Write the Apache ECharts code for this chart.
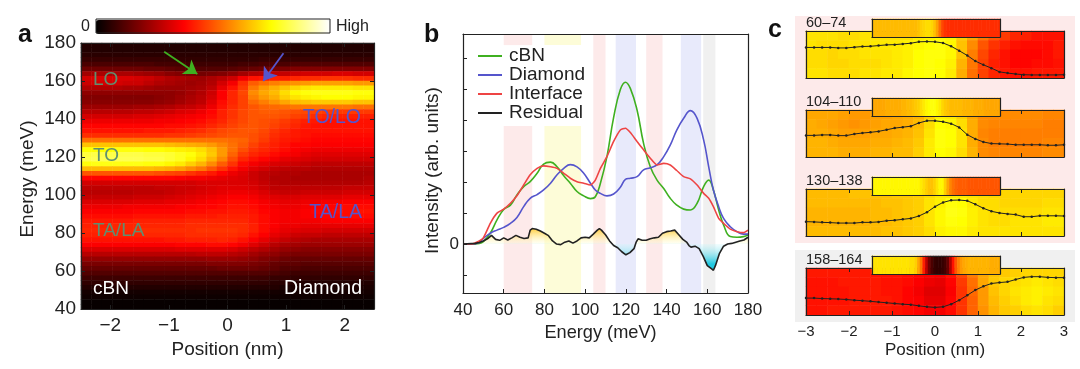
<!DOCTYPE html>
<html>
<head>
<meta charset="utf-8">
<style>html,body{margin:0;padding:0;background:#fff}#chart{width:1080px;height:369px}</style>
<script src="https://cdn.jsdelivr.net/npm/echarts@6/dist/echarts.min.js"></script>
</head>
<body>
<div id="chart"></div>
<script>
// panel a: rows top to bottom (178.75 down to 41.25 meV, 2.5 meV apart), 28 position columns (-2.41 to 2.41 nm)
var aMatrix = [
[5,5,5,5,5,5,5,5,5,5,5,5,5,5,5,5,5,5,5,5,5,5,5,5,5,5,5,5],
[5,5,5,5,5,5,5,5,5,5,5,5,5,5,5,5,5,5,5,5,5,5,5,5,5,5,5,5],
[6,6,6,6,6,6,6,6,6,6,6,6,6,6,6,6,6,6,6,6,6,6,6,6,6,6,6,6],
[8,8,8,8,8,8,8,8,8,7,7,7,7,7,7,7,7,8,8,8,8,8,8,8,8,8,8,8],
[11,11,11,11,11,11,11,10,10,10,9,9,9,9,9,10,10,11,11,11,12,12,12,12,12,12,12,12],
[16,16,16,16,16,16,15,15,14,13,12,12,12,12,13,14,15,16,17,18,19,19,19,19,19,19,19,19],
[24,25,25,25,25,24,23,22,20,19,18,17,18,19,21,24,26,27,28,29,30,31,31,31,32,32,31,31],
[31,32,32,32,32,31,30,28,26,25,24,23,25,27,30,36,40,41,42,42,43,44,44,45,45,45,44,44],
[30,31,31,31,30,30,28,26,25,24,23,24,26,31,36,44,51,54,56,58,59,60,61,61,61,61,60,60],
[26,26,26,26,25,25,24,23,23,23,24,25,28,34,40,46,55,60,63,66,69,71,72,72,72,72,71,71],
[21,21,21,21,21,21,21,21,21,22,24,26,30,37,43,48,58,62,65,70,74,76,77,77,77,77,76,76],
[19,19,19,19,19,19,19,20,21,23,25,27,31,37,43,47,56,60,63,68,71,73,74,75,75,75,74,74],
[20,20,20,20,20,20,20,21,22,24,26,28,33,39,43,47,53,56,59,62,65,66,67,67,67,67,66,66],
[23,23,23,23,23,24,24,25,26,28,29,31,35,40,44,47,50,52,53,54,55,55,55,55,55,55,54,54],
[27,27,27,27,27,28,28,29,30,32,33,35,38,42,45,48,50,51,51,50,49,48,47,46,46,46,46,46],
[31,31,31,31,31,32,32,33,34,35,36,37,39,42,45,48,50,50,50,49,47,46,44,43,42,42,42,42],
[35,35,35,35,35,35,35,36,36,37,38,39,41,43,46,48,50,49,48,46,44,42,41,40,40,40,40,40],
[38,38,38,38,38,38,38,38,39,39,40,41,43,45,47,49,50,49,47,45,43,41,40,40,40,40,40,40],
[40,40,40,40,40,40,41,41,41,42,43,44,46,48,49,50,50,48,45,43,41,40,40,40,40,40,40,40],
[44,44,44,44,44,44,44,44,45,45,46,47,48,49,50,50,49,47,44,42,41,40,39,39,39,39,39,39],
[54,54,54,54,54,54,54,54,54,54,54,54,54,54,53,52,49,46,43,41,40,39,38,38,38,38,38,38],
[66,66,66,66,66,66,66,66,65,64,63,62,60,57,54,51,47,44,42,40,38,38,37,37,37,37,37,37],
[75,75,75,76,76,76,75,75,74,73,72,70,66,60,54,49,45,43,41,39,37,36,35,35,35,35,35,35],
[81,82,82,82,82,82,81,81,80,78,76,72,67,60,52,46,43,41,39,37,36,34,33,33,33,33,33,33],
[82,83,83,83,83,83,82,82,80,78,74,70,64,57,49,43,40,38,36,34,33,32,31,31,31,31,31,31],
[76,77,77,77,77,77,76,76,74,72,68,64,58,51,45,39,36,34,32,31,30,29,28,28,28,28,28,28],
[65,65,65,65,65,65,65,64,63,61,58,55,50,45,40,36,33,31,29,28,27,27,26,26,26,26,26,26],
[50,50,50,50,50,50,50,49,48,47,45,43,41,38,35,33,30,28,27,26,26,25,25,25,25,25,25,25],
[38,38,38,38,38,38,38,38,38,37,36,36,35,34,33,32,30,28,26,26,25,25,25,25,25,25,25,26],
[31,31,31,31,31,31,31,31,31,31,31,32,32,32,32,32,31,29,27,26,26,26,26,26,26,26,26,27],
[28,28,28,28,28,28,28,29,29,30,30,31,32,33,33,33,32,30,28,28,28,28,28,28,28,29,29,29],
[27,27,27,27,27,28,28,28,29,30,31,32,33,34,35,35,34,32,30,29,29,30,30,30,30,31,31,31],
[29,29,29,29,29,30,30,30,31,32,33,34,35,36,37,37,36,34,33,32,32,33,33,33,33,34,34,34],
[32,32,32,32,32,33,33,33,34,34,35,36,37,38,39,39,38,36,35,34,34,35,35,36,36,37,37,37],
[35,35,35,35,36,36,36,36,36,37,37,38,38,39,40,40,39,37,36,35,35,36,37,38,38,39,39,39],
[37,37,37,37,37,38,38,38,38,38,39,39,40,40,41,41,40,38,37,36,36,37,38,38,39,39,40,40],
[39,39,39,39,39,40,40,40,40,40,41,41,41,42,42,42,41,39,37,36,36,37,37,38,38,39,39,39],
[41,41,41,41,41,42,42,42,42,42,43,43,43,43,43,43,41,39,37,36,36,36,36,37,37,37,37,37],
[42,42,42,43,43,43,43,43,43,43,44,44,44,44,44,44,42,39,37,35,35,34,34,34,34,34,34,34],
[43,43,43,43,43,44,44,44,44,44,44,45,45,45,45,44,42,39,36,34,33,32,32,31,31,31,31,31],
[42,42,42,42,42,42,43,43,43,43,44,44,44,44,44,43,40,37,34,32,30,29,29,28,28,28,28,28],
[40,40,40,40,40,40,40,40,41,41,42,42,42,43,42,40,37,34,31,29,27,26,25,25,25,25,25,25],
[37,37,37,37,37,37,37,37,37,38,38,38,39,39,38,36,33,30,27,25,24,23,23,23,23,23,23,23],
[32,32,32,32,32,32,32,32,32,33,33,33,33,33,32,30,28,26,24,22,21,20,20,20,20,20,20,20],
[27,27,27,27,27,27,27,27,27,27,27,28,28,28,27,26,24,22,21,19,18,18,18,18,18,18,18,18],
[22,22,22,22,22,22,22,22,22,22,22,22,23,23,23,22,21,19,18,16,15,15,15,15,15,15,15,15],
[18,18,18,18,18,18,18,18,18,18,18,18,19,19,19,19,18,17,15,14,14,13,13,13,13,13,13,13],
[15,15,15,15,15,15,15,15,15,15,15,15,15,16,16,16,16,15,14,12,12,11,11,11,11,11,11,11],
[12,12,12,12,12,12,12,12,12,12,12,12,12,12,12,12,12,12,11,10,9,9,9,9,9,9,9,9],
[9,9,9,9,9,9,9,9,9,9,9,9,9,9,9,9,9,9,8,8,7,7,7,7,7,7,7,7],
[7,7,7,7,7,7,7,7,7,7,7,7,7,7,7,7,7,7,6,6,5,5,5,5,5,5,5,5],
[5,5,5,5,5,5,5,5,5,5,5,5,5,5,5,5,5,5,5,4,4,4,4,4,4,4,4,4],
[3,3,3,3,3,3,3,3,3,3,3,3,3,3,3,3,3,3,3,3,3,3,3,3,3,3,3,3],
[2,2,2,2,2,2,2,2,2,2,2,2,2,2,2,2,2,2,2,2,2,2,2,2,2,2,2,2],
[1,1,1,1,1,1,1,1,1,1,1,1,1,1,1,1,1,1,1,1,1,1,1,1,1,1,1,1],
[1,1,1,1,1,1,1,1,1,1,1,1,1,1,1,1,1,1,1,1,1,1,1,1,1,1,1,1]
];
var arrowGreen = [[-1.08,175.4],[-0.515,163.7]];
var arrowBlue = [[0.955,174.6],[0.61,160]];

// panel b spectra, sampled on a shared energy list
var bEnergy = [40,44,48,50,53.4,56.7,60,63.3,66.5,69.8,73,76.4,79.6,83,86.2,89.5,92.7,96,99.3,102.6,105,107.5,110.7,114,117.3,119.8,122.2,125.5,128.7,132,135.3,138.6,141.8,145,148.4,151.7,155,158.2,160.7,163,165.6,168,171.3,174.6,177.8,180];
var cbnY = [0,0,0.02,0.08,0.35,0.78,1.12,1.26,1.59,1.86,2.02,2.29,2.59,2.65,2.5,2.21,1.97,1.7,1.56,1.47,1.53,1.97,2.83,4.1,5.0,5.24,5.04,4.34,3.26,2.5,2.07,1.8,1.48,1.26,1.13,1.1,1.32,1.86,2.07,1.75,1.1,0.62,0.24,0.22,0.24,0.29];
var diamondY = [0,0,0.05,0.18,0.35,0.45,0.54,0.67,0.86,1.21,1.48,1.6,1.75,1.97,2.24,2.45,2.57,2.5,2.29,1.97,1.75,1.64,1.56,1.62,1.84,2.09,2.13,2.18,2.4,2.47,2.56,2.83,3.2,3.69,4.07,4.32,4.07,3.37,2.5,1.75,1.21,0.83,0.56,0.4,0.32,0.32];
var interfaceY = [0,0,0.1,0.2,0.67,1.0,1.13,1.32,1.56,1.91,2.24,2.45,2.53,2.5,2.45,2.29,2.13,2.02,1.97,1.91,2.07,2.45,2.83,3.32,3.69,3.75,3.61,3.32,3.05,2.78,2.56,2.61,2.56,2.38,2.18,2.11,1.91,1.64,1.48,1.21,0.83,0.67,0.48,0.4,0.37,0.45];
var residualX = [40,46,48,50,52,54,56,58,60,62,64,66,68,70,72,73,74,76,78,80,82,84,86,88,90,92,94,96,98,100,102,104,106,107,108,110,112,114,116,118,120,122,124,125,126,128,130,132,134,136,138,140,142,144,146,148,150,151,152,154,156,158,160,162,163,164,166,168,170,172,174,176,178,180];
var residualY = [0,0.02,0.05,0.1,0.17,0.28,0.15,0.12,0.2,0.13,0.2,0.28,0.22,0.18,0.2,0.45,0.5,0.48,0.42,0.35,0.27,0.1,0,-0.02,0.06,0.1,0.03,0.1,0.2,0.22,0.2,0.32,0.45,0.5,0.45,0.3,0.1,-0.05,-0.12,-0.25,-0.35,-0.28,-0.15,0.05,0.17,0.12,0.12,0.17,0.2,0.22,0.35,0.4,0.42,0.45,0.3,0.15,0.05,-0.05,-0.1,-0.07,-0.15,-0.4,-0.7,-0.8,-0.85,-0.7,-0.3,-0.07,0,0.02,0.06,0.1,0.13,0.22];
var bandStart = [60,80,104,115,130,147,158];
var bandEnd = [74,98,110,125,138,157,164];
var bandColor = ['#fdeaea','#fdfcd8','#fdeaea','#e8eafb','#fdeaea','#e8eafb','#f0f0f0'];
var bYTicks = [-1,0,1,2,3,4,5,6];

// panel c: 24 columns x 5 rows per map, curve on 33 positions, strip on 48 columns
var cPositions = [-3,-2.8125,-2.625,-2.4375,-2.25,-2.0625,-1.875,-1.6875,-1.5,-1.3125,-1.125,-0.9375,-0.75,-0.5625,-0.375,-0.1875,0,0.1875,0.375,0.5625,0.75,0.9375,1.125,1.3125,1.5,1.6875,1.875,2.0625,2.25,2.4375,2.625,2.8125,3];
var cLabels = ['60–74','104–110','130–138','158–164'];
var map60 = [
[71,71,71,70,70,71,71,71,71,71,73,74,75,74,68,62,55,50,46,43,42,40,40,40],
[71,70,70,70,71,71,72,72,72,73,74,75,76,74,66,58,50,45,42,40,39,39,39,41],
[70,70,69,70,70,71,71,71,72,73,75,76,76,74,66,56,48,43,40,38,38,38,39,41],
[70,70,69,69,70,70,70,71,72,73,75,76,75,73,64,55,47,42,40,38,38,39,39,40],
[71,71,70,70,70,71,71,72,72,74,75,76,75,72,63,54,47,43,41,40,40,41,41,41]];
var map104 = [
[62,62,62,61,60,60,61,61,62,63,64,68,73,72,68,62,58,58,58,58,58,58,57,57],
[63,62,61,60,59,60,61,62,62,63,65,70,75,74,70,63,58,57,57,57,57,57,56,56],
[63,63,62,61,61,61,62,62,63,64,66,71,76,75,71,63,57,56,56,56,56,56,56,56],
[64,64,63,62,62,62,63,63,64,65,67,72,76,75,71,63,58,56,56,56,56,56,57,57],
[64,64,64,63,63,63,64,64,65,65,68,72,75,74,70,64,58,57,57,57,57,57,58,58]];
var map130 = [
[65,65,65,65,66,66,66,66,67,67,68,70,72,72,72,71,70,69,69,69,69,69,69,69],
[65,65,65,65,65,65,65,66,66,67,68,71,73,76,75,72,70,70,69,69,69,69,70,70],
[64,64,64,64,64,64,65,65,66,67,68,71,74,77,76,73,71,70,70,70,70,70,71,71],
[64,64,64,64,64,64,65,65,66,67,68,71,74,76,75,73,71,70,70,71,71,71,72,72],
[65,65,65,65,65,65,65,66,66,67,68,70,73,74,74,72,71,71,71,71,71,71,71,71]];
var map158 = [
[41,41,41,41,41,41,40,40,40,39,38,37,36,40,48,56,62,66,67,68,69,69,69,69],
[40,40,40,41,41,41,41,40,40,39,37,35,34,38,46,54,62,67,69,70,71,72,71,70],
[40,40,40,40,41,41,41,40,40,38,36,33,33,37,45,53,60,66,69,71,72,73,72,71],
[40,40,40,40,41,41,41,41,40,38,37,34,34,38,45,52,60,65,68,70,72,73,71,70],
[40,40,41,41,41,41,41,41,40,39,38,36,36,39,45,52,59,64,67,68,70,71,70,68]];
var curve60 = [0.65,0.65,0.65,0.65,0.64,0.64,0.655,0.67,0.675,0.69,0.705,0.71,0.725,0.74,0.77,0.775,0.77,0.745,0.675,0.58,0.48,0.36,0.28,0.21,0.13,0.105,0.085,0.07,0.065,0.065,0.065,0.065,0.07];
var curve104 = [0.46,0.46,0.47,0.47,0.455,0.455,0.49,0.51,0.525,0.545,0.58,0.615,0.635,0.655,0.725,0.77,0.77,0.75,0.71,0.63,0.475,0.385,0.32,0.285,0.28,0.275,0.26,0.26,0.26,0.26,0.25,0.25,0.26];
var curve130 = [0.305,0.3,0.29,0.285,0.275,0.275,0.275,0.29,0.29,0.3,0.325,0.335,0.355,0.375,0.425,0.505,0.625,0.715,0.76,0.765,0.75,0.675,0.59,0.525,0.49,0.47,0.455,0.41,0.41,0.43,0.43,0.43,0.425];
var curve158 = [0.36,0.36,0.35,0.345,0.34,0.33,0.315,0.305,0.29,0.275,0.26,0.245,0.23,0.22,0.195,0.175,0.16,0.175,0.23,0.315,0.42,0.53,0.61,0.67,0.69,0.705,0.755,0.8,0.815,0.815,0.8,0.795,0.795];
var strip60 = [65,65,65,65,65,65,65,65,65,65,65,65,65,65,65,65,65,66,68,69,70,70,69,66,61,54,48,45,44,44,44,44,44,44,44,44,44,44,44,44,44,44,44,44,44,44,44,44];
var strip104 = [62,62,62,62,62,63,63,63,63,63,63,64,64,65,65,66,67,68,70,72,74,75,76,76,74,72,69,67,66,65,65,65,65,65,64,64,64,64,63,63,63,63,62,62,62,62,62,62];
var strip130 = [74,74,74,74,74,74,74,74,74,74,74,74,74,74,74,74,74,74,72,70,68,66,66,68,71,74,74,68,62,57,54,52,51,51,51,51,50,50,50,50,50,50,50,50,50,50,50,50];
var strip158 = [71,71,71,71,71,71,71,71,71,71,71,71,71,71,70,70,68,62,55,42,28,17,11,8,7,7,8,10,15,26,40,50,56,60,62,63,64,64,64,64,64,64,64,64,63,63,63,63];

var FONT = '"Liberation Sans"';
var INK = '#222';
var GREEN = '#3fb020', BLUE = '#5555cc', RED = '#ee4444';

var grids = [], xAxes = [], yAxes = [], series = [];

function fmt(v) { return String(v).replace('-', '\u2212'); }

function sideAxis(gridIndex, pos, range, extra) {
  var a = {
    type: 'value', gridIndex: gridIndex, position: pos, min: range[0], max: range[1], z: 5,
    splitLine: {show: false},
    axisLine: {show: true, onZero: false, lineStyle: {color: INK, width: 1.2}},
    axisTick: {show: false},
    axisLabel: {show: false}
  };
  for (var k in extra) a[k] = extra[k];
  return a;
}

function ticks(values) {
  return {show: true, inside: true, length: 4, customValues: values, lineStyle: {color: INK, width: 1}};
}

function labels(values, size, margin) {
  return {show: true, customValues: values, fontFamily: FONT, fontSize: size, color: INK, margin: margin, formatter: fmt};
}

// one grid with value axes on four sides, returns axis indexes
function addGrid(rect, xr, yr, b, l, t, r) {
  var g = grids.length;
  grids.push({left: rect[0], top: rect[1], width: rect[2], height: rect[3], containLabel: false});
  var xi = xAxes.length, yi = yAxes.length;
  xAxes.push(sideAxis(g, 'bottom', xr, b));
  xAxes.push(sideAxis(g, 'top', xr, t));
  yAxes.push(sideAxis(g, 'left', yr, l));
  yAxes.push(sideAxis(g, 'right', yr, r));
  return {grid: g, x: xi, y: yi};
}

// heat cells need category axes, kept hidden in the same grid
var heatIndexes = [];
function addHeat(g, rows, name) {
  var cx = xAxes.length, cy = yAxes.length, cols = [], ys = [], data = [];
  for (var i = 0; i < rows[0].length; i++) cols.push(i);
  for (var j = 0; j < rows.length; j++) {
    ys.push(j);
    for (var c = 0; c < rows[j].length; c++) data.push([c, j, rows[j][c]]);
  }
  xAxes.push({type: 'category', gridIndex: g.grid, data: cols, show: false});
  yAxes.push({type: 'category', gridIndex: g.grid, data: ys, inverse: true, show: false});
  heatIndexes.push(series.length);
  series.push({name: name, type: 'heatmap', xAxisIndex: cx, yAxisIndex: cy, data: data, z: 1, silent: true, itemStyle: {borderWidth: 0}, emphasis: {disabled: true}});
}

function pairs(xs, ys) {
  return xs.map(function (x, i) { return [x, ys[i]]; });
}

// panel a
var ga = addGrid([81, 43, 293, 266], [-2.5, 2.5], [40, 180], {
  axisTick: ticks([-2, -1, 0, 1, 2]), axisLabel: labels([-2, -1, 0, 1, 2], 19, 7),
  name: 'Position (nm)', nameLocation: 'middle', nameGap: 29,
  nameTextStyle: {fontFamily: FONT, fontSize: 19, color: INK}
}, {
  interval: 20, axisTick: {show: true, inside: true, length: 4, lineStyle: {color: INK}},
  axisLabel: {show: true, fontFamily: FONT, fontSize: 19, color: INK, margin: 5},
  name: 'Energy (meV)', nameLocation: 'middle', nameGap: 44, nameRotate: 90,
  nameTextStyle: {fontFamily: FONT, fontSize: 19, color: INK, padding: [0, 6, 0, 0]}
}, {axisTick: ticks([-2, -1, 0, 1, 2])}, {
  interval: 20, axisTick: {show: true, inside: true, length: 4, lineStyle: {color: INK}}
});
addHeat(ga, aMatrix, 'map');
series.push({
  type: 'line', xAxisIndex: ga.x, yAxisIndex: ga.y, data: [], silent: true,
  markLine: {
    silent: true, animation: false, label: {show: false}, symbolSize: 13, z: 6,
    lineStyle: {type: 'solid', width: 1.8},
    data: [
      [{coord: arrowGreen[0], symbol: 'none', lineStyle: {color: GREEN}}, {coord: arrowGreen[1], symbol: 'arrow', itemStyle: {color: GREEN}, lineStyle: {color: GREEN}}],
      [{coord: arrowBlue[0], symbol: 'none', lineStyle: {color: BLUE}}, {coord: arrowBlue[1], symbol: 'arrow', itemStyle: {color: BLUE}, lineStyle: {color: BLUE}}]
    ]
  }
});

// panel b
var gb = addGrid([463, 34, 285, 259], [40, 180], [-1.586, 6.8], {
  interval: 20, axisTick: {show: true, inside: true, length: 4, lineStyle: {color: INK}},
  axisLabel: {show: true, fontFamily: FONT, fontSize: 17, color: INK, margin: 9},
  name: 'Energy (meV)', nameLocation: 'middle', nameGap: 29,
  nameTextStyle: {fontFamily: FONT, fontSize: 18.2, color: INK, padding: [0, 10, 0, 0]}
}, {
  axisTick: ticks(bYTicks), axisLabel: labels([0], 17, 4),
  name: 'Intensity (arb. units)', nameLocation: 'middle', nameGap: 21, nameRotate: 90,
  nameTextStyle: {fontFamily: FONT, fontSize: 19, color: INK, padding: [0, 14, 0, 0]}
}, {}, {});

var bandAreas = [];
bandStart.forEach(function (s, i) {
  var st = {itemStyle: {color: bandColor[i]}};
  if (i < 2) {
    bandAreas.push([{coord: [s, 6.44], itemStyle: st.itemStyle}, {coord: [bandEnd[i], 6.8]}]);
    bandAreas.push([{coord: [s, -1.586], itemStyle: st.itemStyle}, {coord: [bandEnd[i], 3.82]}]);
  } else {
    bandAreas.push([{coord: [s, -1.586], itemStyle: st.itemStyle}, {coord: [bandEnd[i], 6.8]}]);
  }
});
series.push({
  name: 'fill', type: 'line', xAxisIndex: gb.x, yAxisIndex: gb.y, data: pairs(residualX, residualY),
  showSymbol: false, silent: true, lineStyle: {width: 0}, z: 2,
  areaStyle: {
    origin: 0, opacity: 1,
    color: {
      type: 'linear', x: 0, y: 228, x2: 0, y2: 264, global: true,
      colorStops: [
        {offset: 0, color: '#ffc830'},
        {offset: 0.4, color: 'rgba(255,250,190,0.3)'},
        {offset: 0.46, color: 'rgba(200,245,250,0.3)'},
        {offset: 1, color: '#20c8e0'}
      ]
    }
  },
  markArea: {silent: true, animation: false, z: 1, data: bandAreas}
});
[['cBN', cbnY, GREEN, 0.45], ['Diamond', diamondY, BLUE, 0.45], ['Interface', interfaceY, RED, 0.2]].forEach(function (s) {
  series.push({
    name: s[0], type: 'line', xAxisIndex: gb.x, yAxisIndex: gb.y, data: pairs(bEnergy, s[1]),
    symbol: 'none', smooth: s[3], silent: true, z: 3, lineStyle: {color: s[2], width: 1.6}, itemStyle: {color: s[2]}
  });
});
series.push({
  name: 'Residual', type: 'line', xAxisIndex: gb.x, yAxisIndex: gb.y, data: pairs(residualX, residualY),
  symbol: 'none', silent: true, z: 4, lineStyle: {color: '#222', width: 1.6}, itemStyle: {color: '#222'}
});

// panel c maps, curves and strips
var cTops = [31, 110, 189, 268];
var stripTops = [19, 98, 177, 256];
var cMaps = [map60, map104, map130, map158];
var cCurves = [curve60, curve104, curve130, curve158];
var cStrips = [strip60, strip104, strip130, strip158];
cTops.forEach(function (top, i) {
  var bottom = i === 3 ? {
    interval: 1, axisTick: {show: true, inside: true, length: 4, lineStyle: {color: INK}},
    axisLabel: {show: true, fontFamily: FONT, fontSize: 15, color: INK, margin: 9, formatter: fmt},
    name: 'Position (nm)', nameLocation: 'middle', nameGap: 27,
    nameTextStyle: {fontFamily: FONT, fontSize: 17, color: INK}
  } : {interval: 1, axisTick: {show: true, inside: true, length: 4, lineStyle: {color: INK}}};
  var g = addGrid([806, top, 258, 47], [-3, 3], [0, 1], bottom, {}, {
    interval: 1, axisTick: {show: true, inside: true, length: 4, lineStyle: {color: INK}}
  }, {});
  addHeat(g, cMaps[i], 'c' + i);
  series.push({
    type: 'line', xAxisIndex: g.x, yAxisIndex: g.y, data: pairs(cPositions, cCurves[i]), silent: true, z: 3,
    symbol: 'circle', symbolSize: 2.5, lineStyle: {color: '#222', width: 1}, itemStyle: {color: '#222'}
  });
});
cTops.forEach(function (top, i) {
  var g = addGrid([872, stripTops[i], 128, 18], [0, 1], [0, 1], {z: 8}, {z: 8}, {z: 8}, {z: 8});
  addHeat(g, [cStrips[i]], 's' + i);
  series[series.length - 1].z = 7;
});

var panelText = [
  ['a', 18, 35, 'left', 25, '#111', 'bold'], ['b', 424, 35, 'left', 25, '#111', 'bold'], ['c', 768, 30, 'left', 25, '#111', 'bold'],
  ['LO', 93, 80, 'left', 19, '#5f8f70'], ['TO', 93, 156, 'left', 19, '#5f8f70'], ['TA/LA', 93, 231, 'left', 19, '#5f8f70'],
  ['TO/LO', 361, 118, 'right', 19.5, BLUE], ['TA/LA', 362, 213, 'right', 19.5, BLUE],
  ['cBN', 93, 289, 'left', 19, '#fff'], ['Diamond', 362, 289, 'right', 19.5, '#fff']
];
var graphics = [
  {type: 'rect', z: -1, shape: {x: 795, y: 16, width: 280, height: 227}, style: {fill: '#fdeaea'}},
  {type: 'rect', z: -1, shape: {x: 795, y: 250, width: 280, height: 72}, style: {fill: '#f0f0f0'}},
  {type: 'rect', z: 10, shape: {x: 96, y: 19, width: 234, height: 14}, style: {fill: 'none', stroke: INK, lineWidth: 1}}
];
panelText.forEach(function (t) {
  graphics.push({type: 'text', z: 10, x: t[1], y: t[2], style: {text: t[0], align: t[3], verticalAlign: 'middle', fill: t[5], font: (t[6] || 'normal') + ' ' + t[4] + 'px ' + FONT}});
});
cLabels.forEach(function (t, i) {
  graphics.push({type: 'text', z: 10, x: 806, y: stripTops[i] + 4, style: {text: t, align: 'left', verticalAlign: 'middle', fill: INK, font: '14.5px ' + FONT}});
});

var chart = echarts.init(document.getElementById('chart'), null, {renderer: 'canvas'});
chart.setOption({
  animation: false,
  backgroundColor: '#fff',
  textStyle: {fontFamily: FONT},
  legend: {
    left: 478, top: 46.5, orient: 'vertical', icon: 'rect', itemWidth: 24, itemHeight: 2, itemGap: 0, selectedMode: false, padding: 0,
    data: ['cBN', 'Diamond', 'Interface', 'Residual'],
    textStyle: {fontFamily: FONT, fontSize: 19, color: INK, padding: [0, 0, 0, 2]}
  },
  visualMap: {
    type: 'continuous', seriesIndex: heatIndexes, min: 0, max: 100, orient: 'horizontal', left: 81, top: 19,
    itemWidth: 14, itemHeight: 234, padding: 0, textGap: 6, text: ['High', '0'], hoverLink: false, realtime: false,
    textStyle: {fontFamily: FONT, fontSize: 16, color: INK},
    inRange: {color: ['#000000', '#550000', '#aa0000', '#ff0000', '#ff5500', '#ffaa00', '#ffff00', '#ffff80', '#ffffff']}
  },
  grid: grids,
  xAxis: xAxes,
  yAxis: yAxes,
  series: series,
  graphic: graphics
});
</script>
</body>
</html>
